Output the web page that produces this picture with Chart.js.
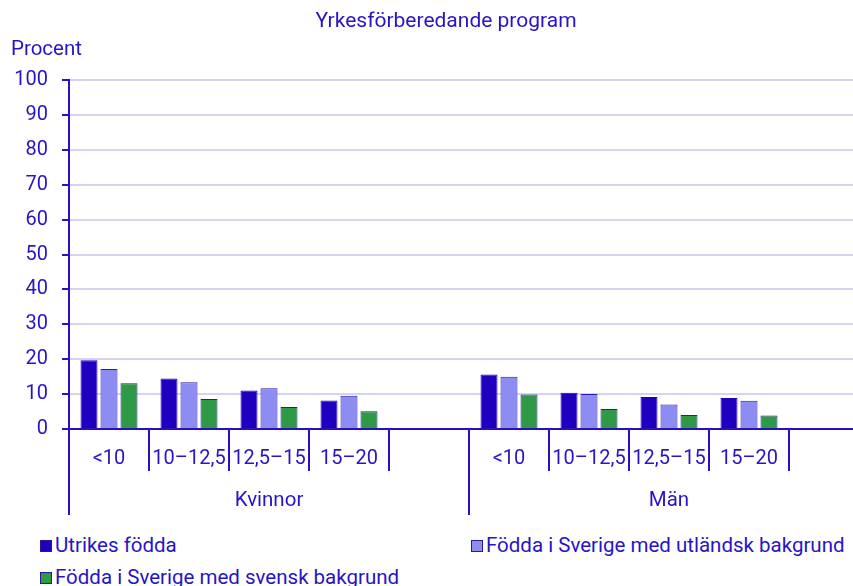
<!DOCTYPE html>
<html>
<head>
<meta charset="utf-8">
<script src="https://cdn.jsdelivr.net/npm/chart.js@4/dist/chart.umd.min.js"></script>
<style>
  html, body { margin: 0; padding: 0; background: #fff; overflow: hidden; }
  #wrap { position: relative; width: 853px; height: 586px; overflow: hidden; }
  #chart { position: absolute; left: 0; top: 0; }
  .legend { position: absolute; font: 20.5px Roboto, sans-serif; color: #2814c8; white-space: nowrap; line-height: 24px; }
  .legend i { display: inline-block; width: 10px; height: 10px; border: 1px solid #2a1a9a; margin-right: 3px; vertical-align: 0px; }
</style>
</head>
<body>
<div id="wrap">
  <canvas id="chart" width="870" height="525"></canvas>
  <div id="legend"></div>
</div>
<script>
// ── data ────────────────────────────────────────────────────────────────────
const title = 'Yrkesförberedande program';
const yLabel = 'Procent';
const categories = ['<10', '10–12,5', '12,5–15', '15–20'];
const groups = ['Kvinnor', 'Män'];
const seriesNames = [
  'Utrikes födda',
  'Födda i Sverige med utländsk bakgrund',
  'Födda i Sverige med svensk bakgrund',
];
// per group: <10, 10–12,5, 12,5–15, 15–20
const utrikes = [19.7, 14.5, 11.0, 8.2, 15.6, 10.4, 9.2, 8.9];
const utlBakgrund = [17.2, 13.4, 11.7, 9.5, 15.0, 10.0, 7.0, 8.1];
const svBakgrund = [13.1, 8.6, 6.3, 5.1, 9.9, 5.7, 4.0, 3.9];
const yTicks = [0, 10, 20, 30, 40, 50, 60, 70, 80, 90, 100];

const TEXT = '#2814c8';
const AXIS = '#2a10c4';
const GRID = '#d4d4f0';
const colors = ['#1e00be', '#8c8cf2', '#2e9a45'];
const borders = ['#1e00be', '#2a1ab0', '#2a1a9a'];
const FONT = 'Roboto, sans-serif';

// each group gets its categories plus one empty slot
const labels = groups.flatMap(() => [...categories, '']);
const spread = (vals) =>
  groups.flatMap((g, gi) => [...vals.slice(gi * categories.length, (gi + 1) * categories.length), null]);

const seriesData = [utrikes, utlBakgrund, svBakgrund];

// ── extras drawn on top: title, unit label, group labels, long separators ──
const decorations = {
  id: 'decorations',
  afterDraw(chart) {
    const { ctx, chartArea, scales } = chart;
    const x = scales.x;
    const slot = x.getPixelForValue(1) - x.getPixelForValue(0);
    ctx.save();
    ctx.fillStyle = TEXT;
    ctx.textBaseline = 'middle';
    ctx.textAlign = 'center';
    ctx.font = `21px ${FONT}`;
    ctx.fillText(title, 446, 22);
    ctx.font = `20.5px ${FONT}`;
    ctx.textAlign = 'left';
    ctx.fillText(yLabel, 11, 50);

    const per = categories.length + 1;
    ctx.strokeStyle = AXIS;
    ctx.lineWidth = 2;
    groups.forEach((g, gi) => {
      const first = gi * per;
      const left = x.getPixelForValue(first) - slot / 2;
      const right = x.getPixelForValue(first + per - 1) + slot / 2;
      ctx.beginPath();
      ctx.moveTo(Math.round(left), chartArea.bottom);
      ctx.lineTo(Math.round(left), 515);
      ctx.stroke();
      ctx.textAlign = 'center';
      ctx.fillText(g, (left + right) / 2, 501);
    });
    ctx.restore();
  },
};

new Chart(document.getElementById('chart'), {
  type: 'bar',
  data: {
    labels,
    datasets: seriesData.map((vals, i) => ({
      label: seriesNames[i],
      data: spread(vals),
      backgroundColor: colors[i],
      borderColor: borders[i],
      borderWidth: 1,
      barPercentage: 0.85,
      categoryPercentage: 0.75,
    })),
  },
  options: {
    responsive: false,
    animation: false,
    layout: { padding: { top: 80, right: 1, left: 0, bottom: 0 } },
    plugins: { legend: { display: false }, title: { display: false }, tooltip: { enabled: false } },
    scales: {
      x: {
        afterFit: (s) => { s.height = 96; },
        border: { color: AXIS, width: 2 },
        grid: {
          offset: true,
          drawOnChartArea: false,
          drawTicks: true,
          tickLength: 42,
          tickColor: AXIS,
          lineWidth: 2,
        },
        ticks: {
          color: TEXT,
          font: { family: FONT, size: 20 },
          padding: -24,
          maxRotation: 0,
          autoSkip: false,
        },
      },
      y: {
        min: 0,
        max: 100,
        afterFit: (s) => { s.width = 69; },
        afterBuildTicks: (s) => { s.ticks = yTicks.map((v) => ({ value: v })); },
        border: { color: AXIS, width: 2 },
        grid: { color: GRID, lineWidth: 2, tickColor: AXIS, tickLength: 7 },
        ticks: {
          color: TEXT,
          font: { family: FONT, size: 20 },
          padding: 14,
        },
      },
    },
  },
  plugins: [decorations],
});

// ── html legend ─────────────────────────────────────────────────────────────
const legendPos = [
  { left: 40, top: 533 },
  { left: 471, top: 533 },
  { left: 40, top: 565 },
];
document.getElementById('legend').innerHTML = seriesNames
  .map(
    (name, i) =>
      `<div class="legend" style="left:${legendPos[i].left}px;top:${legendPos[i].top}px"><i style="background:${colors[i]}"></i>${name}</div>`
  )
  .join('');
</script>
</body>
</html>
